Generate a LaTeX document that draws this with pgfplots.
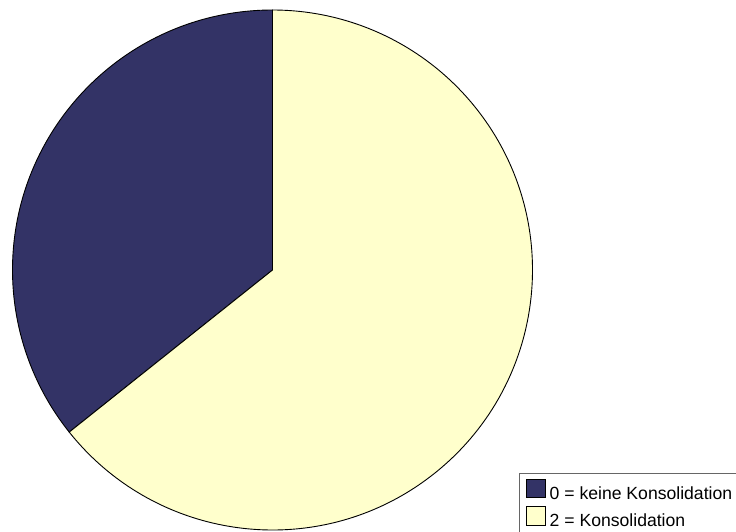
\documentclass[border=0pt]{standalone}
\usepackage{pgfplots}
\pgfplotsset{compat=1.18}
\usepackage{fontspec}
\setmainfont{Liberation Sans}
\definecolor{navy}{HTML}{333366}
\definecolor{lightyel}{HTML}{FFFFCC}
\begin{document}
\begin{tikzpicture}
% data: share of cases
\def\valA{5}
\def\valB{9}
\pgfmathsetmacro\total{\valA+\valB}
\pgfmathsetmacro\angA{90+360*\valA/\total}
\begin{axis}[scale only axis, width=736pt, height=531pt,
  xmin=0, xmax=736, ymin=0, ymax=531, axis lines=none, clip=false,
  legend style={at={(axis cs:519,58.5)}, anchor=north west,
    draw=black!60, line width=0.8pt, inner xsep=6.5pt, inner ysep=6pt,
    row sep=5.5pt, column sep=4pt,
    font=\fontsize{17.6}{20}\selectfont,
    nodes={inner sep=0pt}},
  legend cell align=left,
  legend image code/.code={\filldraw[#1, line width=0.8pt] (0pt,-4pt) rectangle (19pt,14.4pt);}]
\addlegendimage{fill=navy, draw=black}
\addlegendentry{0 = keine Konsolidation}
\addlegendimage{fill=lightyel, draw=black}
\addlegendentry{2 = Konsolidation}
\filldraw[fill=navy, draw=black, line width=0.9pt] (axis cs:272.5,261) -- ++(90:260pt) arc[start angle=90, end angle=\angA, radius=260pt] -- cycle;
\filldraw[fill=lightyel, draw=black, line width=0.9pt] (axis cs:272.5,261) -- ++(\angA:260pt) arc[start angle=\angA, end angle=450, radius=260pt] -- cycle;
\end{axis}
\pgfresetboundingbox
\useasboundingbox (current axis.south west) rectangle (current axis.north east);
\end{tikzpicture}
\end{document}
